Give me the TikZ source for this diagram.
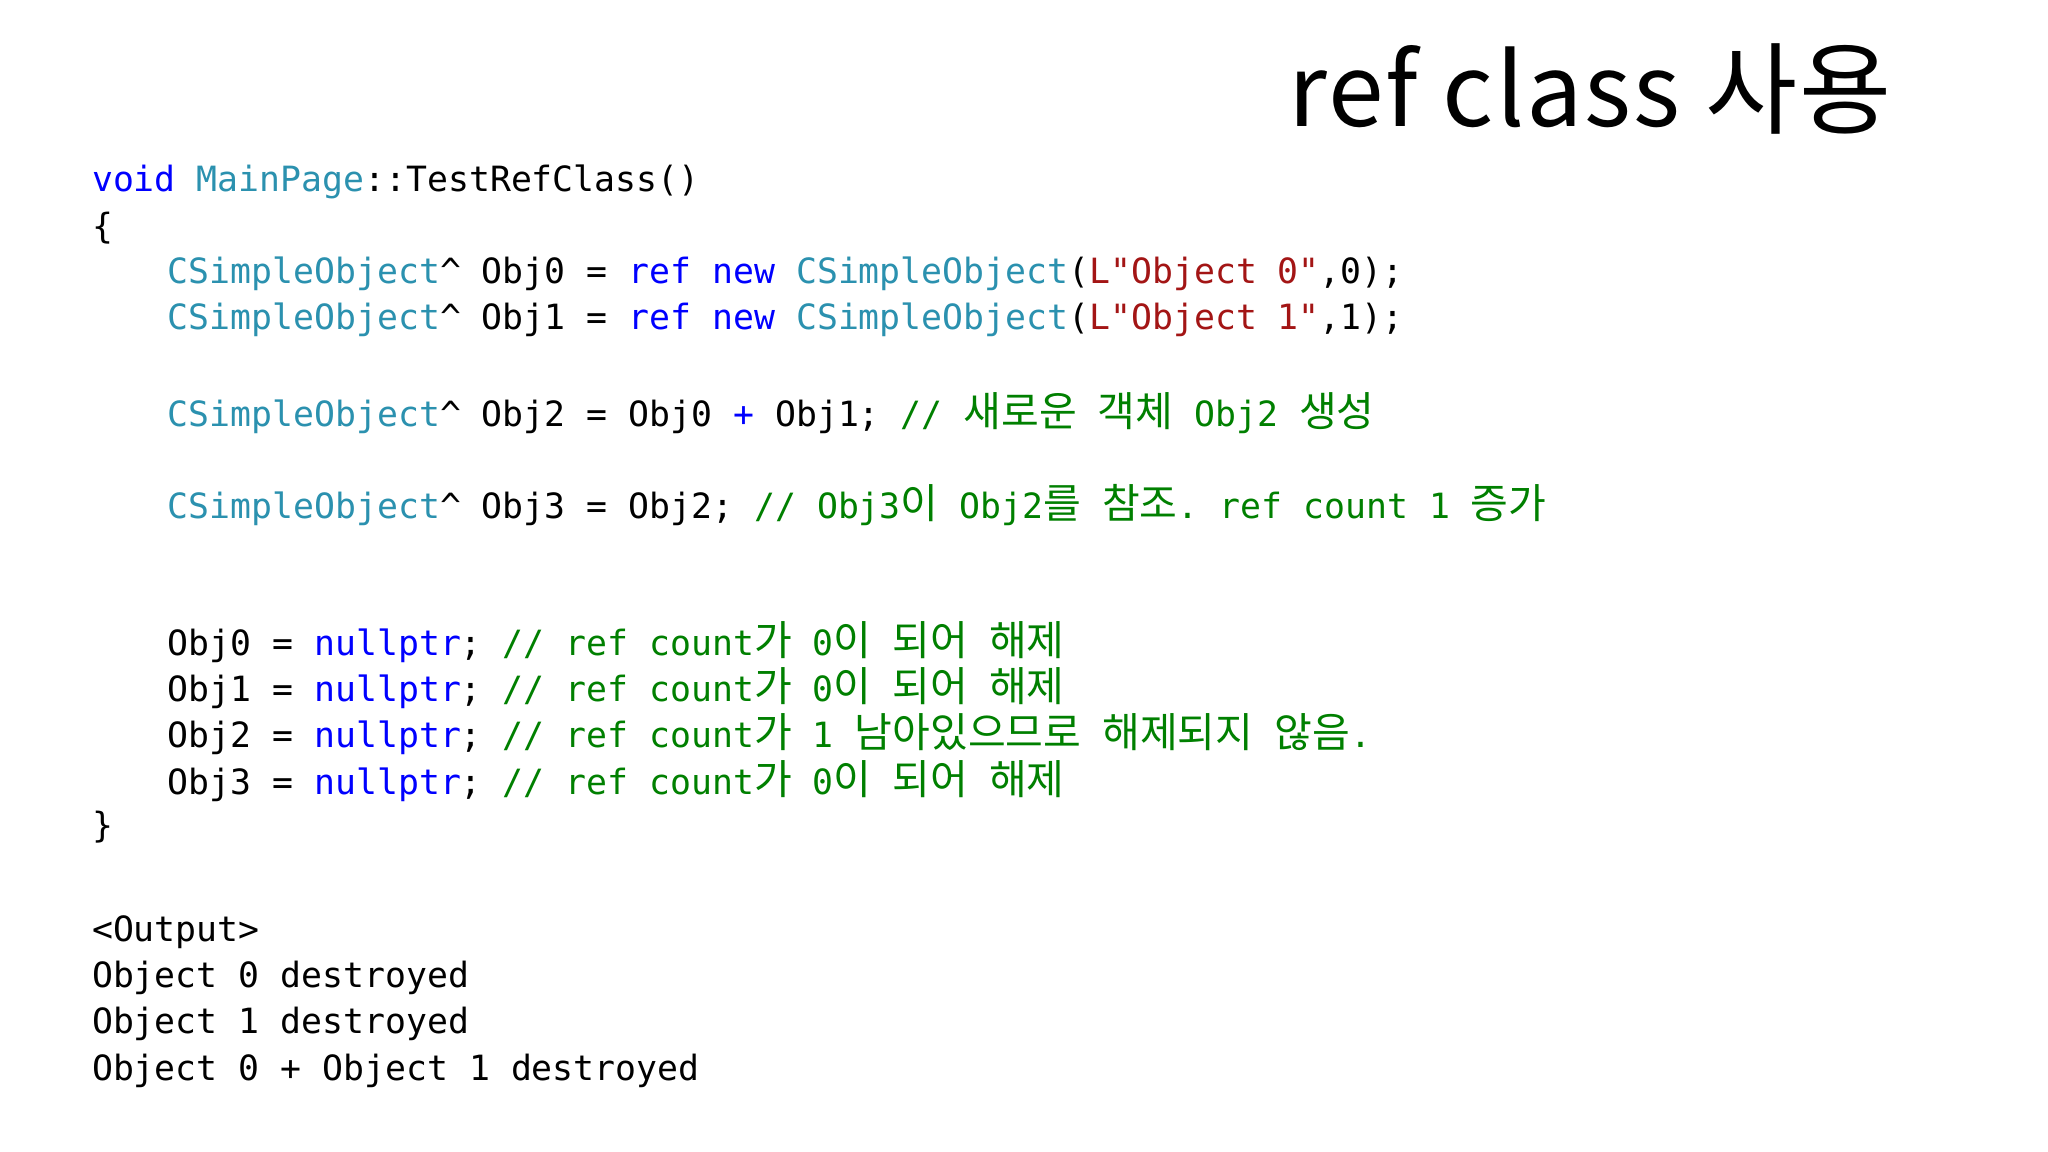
\documentclass[tikz,border=0pt]{standalone}
\usepackage{fontspec}
\setmonofont{DejaVu Sans Mono}
\newfontfamily\cjk[Scale=1.18]{Noto Sans CJK KR}
\newfontfamily\titlefont[LetterSpace=2]{Noto Sans CJK KR}
\definecolor{kwc}{RGB}{0,0,255}
\definecolor{tyc}{RGB}{43,145,175}
\definecolor{stc}{RGB}{163,21,21}
\definecolor{cmc}{RGB}{0,128,0}
\newcommand{\kw}[1]{\textcolor{kwc}{#1}}
\newcommand{\ty}[1]{\textcolor{tyc}{#1}}
\newcommand{\st}[1]{\textcolor{stc}{#1}}
\newcommand{\cmt}[1]{\textcolor{cmc}{#1}}
\newcommand{\ko}[1]{{\cjk #1}}
\begin{document}
\begin{tikzpicture}[x=1cm,y=1cm,
  code/.style={anchor=west,inner sep=0pt,font=\ttfamily\fontsize{9.9}{12}\selectfont}]
\useasboundingbox[fill=white] (0,0) rectangle (20.48,-11.52);
\node[anchor=west,inner sep=0pt,font=\titlefont\fontsize{28.5}{32}\selectfont] (title) at (12.88,-0.89) {ref class 사용};
\node[code] (l1) at (0.914,-1.815) {\kw{void} \ty{MainPage}::TestRefClass()};
\node[code] (l2) at (0.914,-2.286) {\{};
\node[code] (l3) at (1.67,-2.743) {\ty{CSimpleObject}\textasciicircum{} Obj0 = \kw{ref} \kw{new} \ty{CSimpleObject}(\st{L"Object 0"},0);};
\node[code] (l4) at (1.67,-3.20) {\ty{CSimpleObject}\textasciicircum{} Obj1 = \kw{ref} \kw{new} \ty{CSimpleObject}(\st{L"Object 1"},1);};
\node[code] (l5) at (1.67,-4.127) {\ty{CSimpleObject}\textasciicircum{} Obj2 = Obj0 \kw{+} Obj1; \cmt{// \ko{새로운} \ko{객체} Obj2 \ko{생성}}};
\node[code] (l6) at (1.67,-5.054) {\ty{CSimpleObject}\textasciicircum{} Obj3 = Obj2; \cmt{// Obj3\ko{이} Obj2\ko{를} \ko{참조}. ref count 1 \ko{증가}}};
\node[code] (l7) at (1.67,-6.426) {Obj0 = \kw{nullptr}; \cmt{// ref count\ko{가} 0\ko{이} \ko{되어} \ko{해제}}};
\node[code] (l8) at (1.67,-6.883) {Obj1 = \kw{nullptr}; \cmt{// ref count\ko{가} 0\ko{이} \ko{되어} \ko{해제}}};
\node[code] (l9) at (1.67,-7.34) {Obj2 = \kw{nullptr}; \cmt{// ref count\ko{가} 1 \ko{남아있으므로} \ko{해제되지} \ko{않음}.}};
\node[code] (l10) at (1.67,-7.81) {Obj3 = \kw{nullptr}; \cmt{// ref count\ko{가} 0\ko{이} \ko{되어} \ko{해제}}};
\node[code] (l11) at (0.914,-8.267) {\}};
\node[code] (l12) at (0.914,-9.325) {<Output>};
\node[code] (l13) at (0.914,-9.782) {Object 0 destroyed};
\node[code] (l14) at (0.914,-10.24) {Object 1 destroyed};
\node[code] (l15) at (0.914,-10.71) {Object 0 + Object 1 destroyed};
\end{tikzpicture}
\end{document}
